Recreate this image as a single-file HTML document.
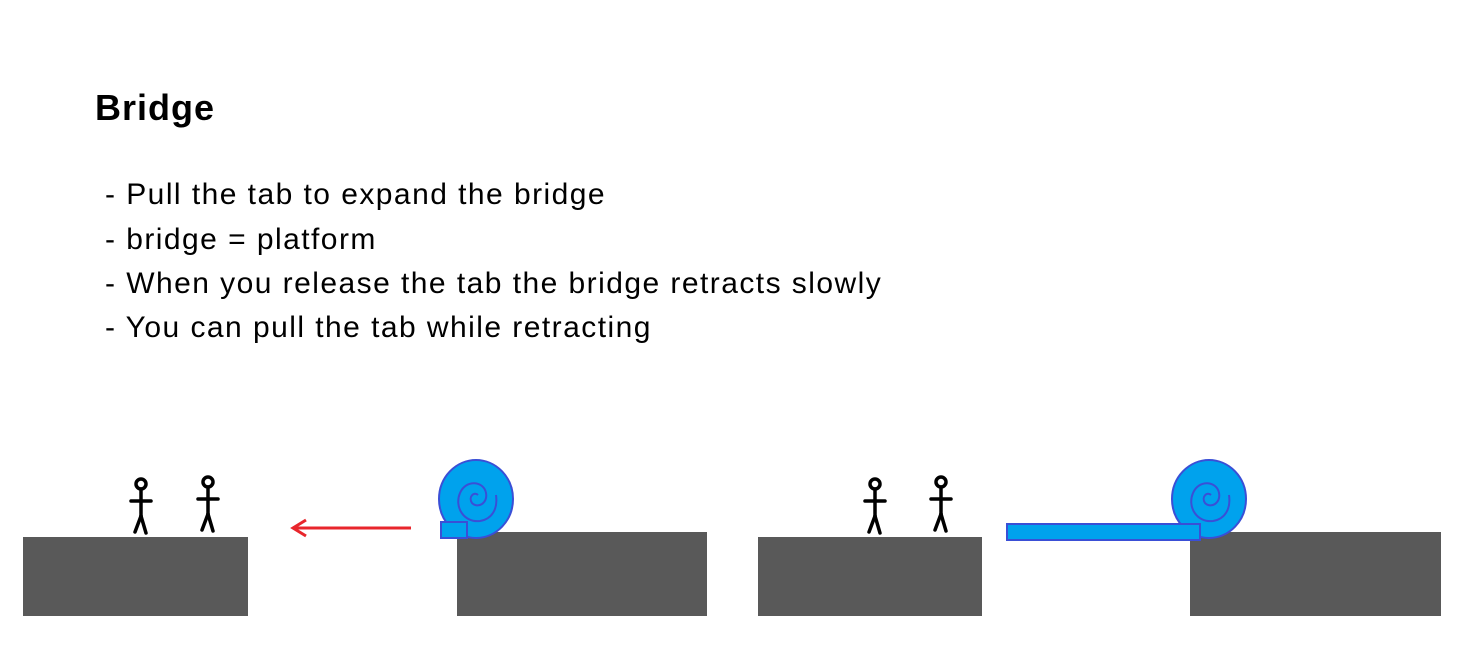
<!DOCTYPE html>
<html><head><style>
body{margin:0;width:1470px;height:662px;background:#fff;position:relative;overflow:hidden;font-family:"Liberation Sans",sans-serif;}
h1{position:absolute;left:95px;top:87px;margin:0;font-size:36px;font-weight:bold;color:#000;letter-spacing:1px;}
.l{position:absolute;left:105px;font-size:30px;color:#000;white-space:nowrap;letter-spacing:1.45px;}
</style></head><body>
<h1>Bridge</h1>
<div class="l" style="top:178px">- Pull the tab to expand the bridge</div>
<div class="l" style="top:223px">- bridge = platform</div>
<div class="l" style="top:267px">- When you release the tab the bridge retracts slowly</div>
<div class="l" style="top:311px">- You can pull the tab while retracting</div>
<svg width="1470" height="662" style="position:absolute;left:0;top:0">
<defs>
<g id="fig" stroke="#000" stroke-width="3.5" fill="none" stroke-linecap="round">
<circle cx="0" cy="-53" r="5"/>
<line x1="0" y1="-48" x2="0" y2="-21"/>
<line x1="-10" y1="-36" x2="10" y2="-36"/>
<line x1="0" y1="-21" x2="-6" y2="-5"/>
<line x1="0" y1="-21" x2="5" y2="-4"/>
</g>
<g id="snail">
<ellipse cx="0" cy="0" rx="37" ry="39" fill="#00a2ed" stroke="#3a4fd6" stroke-width="2"/>
<path d="M2,-4 C-2,-8 -8,-2 -4,4 C2,10 12,4 10,-6 C8,-18 -10,-20 -16,-6 C-22,8 -12,24 4,22 C16,20 22,10 20,-4" fill="none" stroke="#3a4fd6" stroke-width="2"/>
</g>
</defs>
<rect x="23" y="537" width="225" height="79" fill="#595959"/>
<rect x="457" y="532" width="250" height="84" fill="#595959"/>
<rect x="758" y="537" width="224" height="79" fill="#595959"/>
<rect x="1190" y="532" width="251" height="84" fill="#595959"/>
<use href="#fig" x="141" y="537"/>
<use href="#fig" x="208" y="535"/>
<use href="#fig" x="875" y="537"/>
<use href="#fig" x="941" y="535"/>
<use href="#snail" x="476" y="499"/>
<rect x="441" y="522" width="26" height="16" fill="#00a2ed" stroke="#3a4fd6" stroke-width="2"/>
<line x1="294" y1="528" x2="411" y2="528" stroke="#e8262c" stroke-width="3"/>
<path d="M306,520 L293,528 L306,536" fill="none" stroke="#e8262c" stroke-width="3"/>
<use href="#snail" x="1209" y="499"/>
<rect x="1007" y="524" width="193" height="16" fill="#00a2ed" stroke="#3a4fd6" stroke-width="2"/>
</svg>
</body></html>
